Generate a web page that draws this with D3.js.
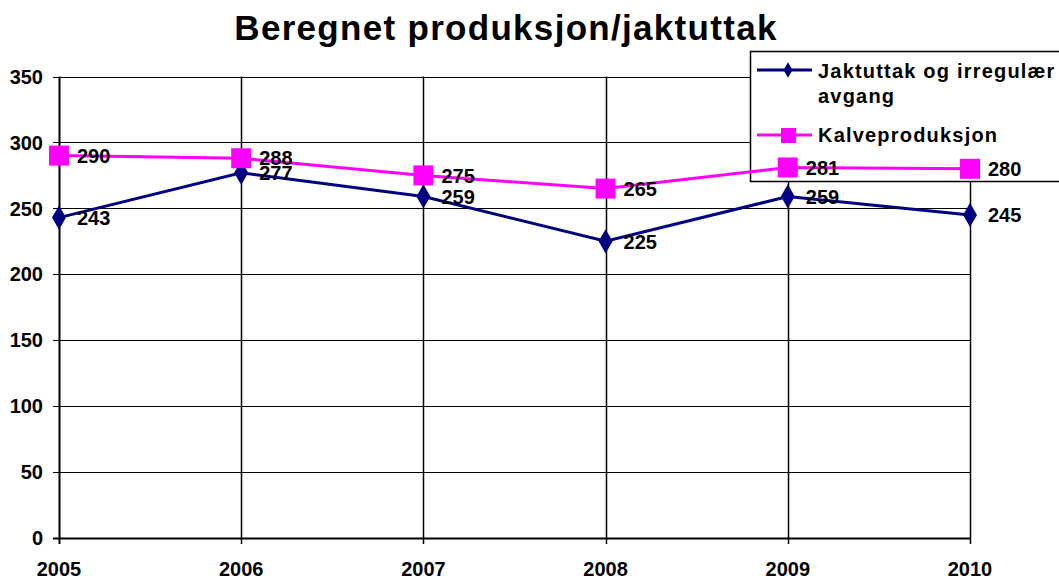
<!DOCTYPE html>
<html>
<head>
<meta charset="utf-8">
<script src="https://cdn.jsdelivr.net/npm/d3@7"></script>
<style>
  body { margin: 0; background: #fff; overflow: hidden; }
  svg { font-family: Arial, "Liberation Sans", sans-serif; font-weight: bold; }
</style>
</head>
<body>
<div class="chart"></div>
<script>
var years = ["2005", "2006", "2007", "2008", "2009", "2010"];
var jaktuttak = [243, 277, 259, 225, 259, 245];
var kalveproduksjon = [290, 288, 275, 265, 281, 280];
var yTicks = [0, 50, 100, 150, 200, 250, 300, 350];
var seriesNames = ["Jaktuttak og irregulær", "avgang", "Kalveproduksjon"];

var chartWidth = 1059, chartHeight = 579;
var plotLeft = 59, plotRight = 970, plotTop = 76.5, plotBottom = 538;

var svg = d3.select(".chart").append("svg")
  .attr("width", chartWidth)
  .attr("height", chartHeight);

var x = d3.scalePoint().domain(years).range([plotLeft, plotRight]);
var y = d3.scaleLinear().domain([0, 350]).range([plotBottom, plotTop]);

// title
svg.append("text")
  .attr("x", 506).attr("y", 40)
  .attr("text-anchor", "middle")
  .style("font-size", "35px")
  .style("letter-spacing", "1.3px")
  .text("Beregnet produksjon/jaktuttak");

// grid
svg.selectAll(".hgrid").data(yTicks).enter().append("line")
  .attr("x1", plotLeft - 6).attr("x2", plotRight)
  .attr("y1", function(d) { return Math.round(y(d)) + 0.5; })
  .attr("y2", function(d) { return Math.round(y(d)) + 0.5; })
  .attr("stroke", "#000").attr("stroke-width", 1.2);

svg.selectAll(".vgrid").data(years).enter().append("line")
  .attr("x1", function(d) { return Math.round(x(d)) + 0.5; })
  .attr("x2", function(d) { return Math.round(x(d)) + 0.5; })
  .attr("y1", plotTop).attr("y2", plotBottom + 6)
  .attr("stroke", "#000").attr("stroke-width", function(d, i) { return i == 0 ? 2 : 1.5; });

svg.append("line")
  .attr("x1", plotLeft - 6).attr("x2", plotRight)
  .attr("y1", plotBottom + 0.5).attr("y2", plotBottom + 0.5)
  .attr("stroke", "#000").attr("stroke-width", 2);

// axis labels
svg.selectAll(".ylab").data(yTicks).enter().append("text")
  .attr("x", 43).attr("y", function(d) { return y(d); })
  .attr("dy", "0.36em")
  .attr("text-anchor", "end")
  .style("font-size", "20px")
  .text(function(d) { return d; });

svg.selectAll(".xlab").data(years).enter().append("text")
  .attr("x", function(d) { return x(d); }).attr("y", 576)
  .attr("text-anchor", "middle")
  .style("font-size", "20px")
  .text(function(d) { return d; });

// legend (under the series)
var lg = svg.append("g");
lg.append("rect")
  .attr("x", 750.5).attr("y", 51.5).attr("width", 320).attr("height", 130)
  .attr("fill", "#fff").attr("stroke", "#000").attr("stroke-width", 1.5);

lg.append("line").attr("x1", 757).attr("x2", 812).attr("y1", 70).attr("y2", 70)
  .attr("stroke", "#000080").attr("stroke-width", 3);
lg.append("path").attr("d", d3.symbol(d3.symbolDiamond, 70)())
  .attr("transform", "translate(788,70)").attr("fill", "#000080");
lg.append("text").attr("x", 818).attr("y", 78).style("font-size", "20px")
  .style("letter-spacing", "1.2px").text(seriesNames[0]);
lg.append("text").attr("x", 818).attr("y", 103).style("font-size", "20px")
  .style("letter-spacing", "1.2px").text(seriesNames[1]);

lg.append("line").attr("x1", 757).attr("x2", 812).attr("y1", 135).attr("y2", 135)
  .attr("stroke", "#ff00ff").attr("stroke-width", 3);
lg.append("rect").attr("x", 781).attr("y", 128).attr("width", 15).attr("height", 15)
  .attr("fill", "#ff00ff");
lg.append("text").attr("x", 818).attr("y", 142).style("font-size", "20px")
  .style("letter-spacing", "1.2px").text(seriesNames[2]);

// series
var line = d3.line()
  .x(function(d, i) { return x(years[i]); })
  .y(function(d) { return y(d); });

svg.append("path").datum(jaktuttak).attr("d", line)
  .attr("fill", "none").attr("stroke", "#000080").attr("stroke-width", 3);
svg.append("path").datum(kalveproduksjon).attr("d", line)
  .attr("fill", "none").attr("stroke", "#ff00ff").attr("stroke-width", 3);

svg.selectAll(".dia").data(jaktuttak).enter().append("path")
  .attr("d", d3.symbol(d3.symbolDiamond, 170)())
  .attr("transform", function(d, i) { return "translate(" + x(years[i]) + "," + y(d) + ")"; })
  .attr("fill", "#000080");

svg.selectAll(".sq").data(kalveproduksjon).enter().append("rect")
  .attr("x", function(d, i) { return x(years[i]) - 10; })
  .attr("y", function(d) { return y(d) - 10; })
  .attr("width", 20).attr("height", 20)
  .attr("fill", "#ff00ff");

// value labels
function labels(data) {
  svg.selectAll(null).data(data).enter().append("text")
    .attr("x", function(d, i) { return x(years[i]) + 18; })
    .attr("y", function(d) { return y(d); })
    .attr("dy", "0.36em")
    .style("font-size", "20px")
    .text(function(d) { return d; });
}
labels(jaktuttak);
labels(kalveproduksjon);
</script>
</body>
</html>
